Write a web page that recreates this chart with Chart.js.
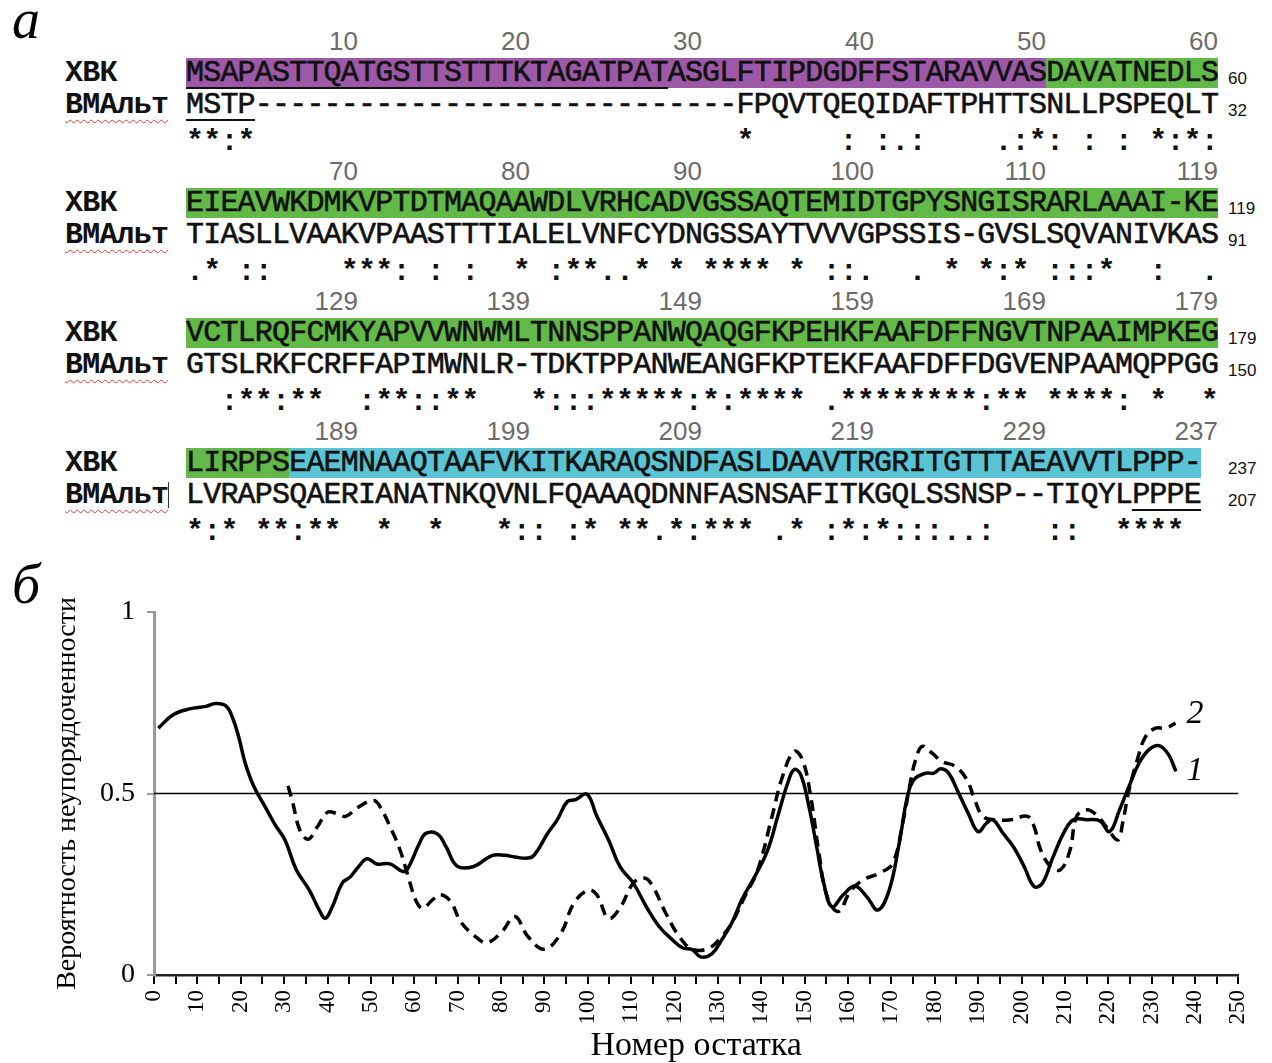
<!DOCTYPE html>
<html>
<head>
<meta charset="utf-8">
<script src="https://cdn.jsdelivr.net/npm/chart.js@4.4.0/dist/chart.umd.min.js"></script>
<style>
  body { margin: 0; width: 1272px; height: 1063px; background: #fff; position: relative; overflow: hidden; }
  #align { position: absolute; left: 0; top: 0; width: 1272px; height: 550px; }
  .mono { position: absolute; font-family: "Liberation Mono", "Courier New", monospace; font-size: 30px;
          letter-spacing: -0.8px; line-height: 30px; white-space: pre; color: #111; }
  .seq { -webkit-text-stroke: 0.6px #111; }
  .lbl { font-weight: bold; }
  .cons { font-weight: bold; }
  .spell { text-decoration: underline wavy #e53935; text-decoration-thickness: 1px; text-underline-offset: 6px; }
  .num { position: absolute; width: 100px; text-align: right; font-family: "Liberation Sans", Arial, sans-serif;
         font-size: 26px; line-height: 26px; color: #6b6b6b; }
  .cnt { position: absolute; font-family: "Liberation Sans", Arial, sans-serif; font-size: 17px; line-height: 17px; color: #111; }
  .panel { position: absolute; font-family: "Liberation Serif", serif; font-style: italic; font-size: 56px; line-height: 56px; }
  #plot { position: absolute; left: 0; top: 555px; }
</style>
</head>
<body>
<div id="align"></div>
<div class="panel" style="left:12px; top:-9px;">а</div>
<div class="panel" style="left:12px; top:556px;">б</div>
<canvas id="plot" width="1272" height="508"></canvas>
<script>
// === а: выравнивание ===
const xvkRows = [
  'MSAPASTTQATGSTTSTTTKTAGATPATASGLFTIPDGDFFSTARAVVASDAVATNEDLS',
  'EIEAVWKDMKVPTDTMAQAAWDLVRHCADVGSSAQTEMIDTGPYSNGISRARLAAAI-KE',
  'VCTLRQFCMKYAPVVWNWMLTNNSPPANWQAQGFKPEHKFAAFDFFNGVTNPAAIMPKEG',
  'LIRPPSEAEMNAAQTAAFVKITKARAQSNDFASLDAAVTRGRITGTTTAEAVVTLPPP-'
];
const vmRows = [
  'MSTP----------------------------FPQVTQEQIDAFTPHTTSNLLPSPEQLT',
  'TIASLLVAAKVPAASTTTIALELVNFCYDNGSSAYTVVVGPSSIS-GVSLSQVANIVKAS',
  'GTSLRKFCRFFAPIMWNLR-TDKTPPANWEANGFKPTEKFAAFDFFDGVENPAAMQPPGG',
  'LVRAPSQAERIANATNKQVNLFQAAAQDNNFASNSAFITKGQLSSNSP--TIQYLPPPE'
];
// [столбец, символы]
const consRows = [
  [[1, '**:*'], [33, '*'], [39, ': :.:'], [48, '.:*: : : *:*:']],
  [[1, '.* ::'], [10, '***: : :'], [20, '* :**..* * **** * ::.'], [43, '. * *:*'], [51, ':::*'], [57, ':'], [60, '.']],
  [[3, ':**:**'], [11, ':**::**'], [21, '*:::*****:*:****'], [38, '.********:**'], [51, '****:'], [57, '*'], [60, '*']],
  [[1, '*:* **:**'], [12, '*'], [15, '*'], [19, '*:: :* **.*:***'], [35, '.*'], [38, ':*:*:::..:'], [51, '::'], [55, '****']]
];
const posLabels = [
  ['10', '20', '30', '40', '50', '60'],
  ['70', '80', '90', '100', '110', '119'],
  ['129', '139', '149', '159', '169', '179'],
  ['189', '199', '209', '219', '229', '237']
];
const xvkCounts = ['60', '119', '179', '237'];
const vmCounts = ['32', '91', '150', '207'];

// домены: [блок, от, до, цвет]
const domains = [
  [0, 1, 50, '#9d59a7'], [0, 51, 60, '#63b948'],
  [1, 1, 60, '#63b948'],
  [2, 1, 60, '#63b948'],
  [3, 1, 6, '#63b948'], [3, 7, 59, '#5bc4d4']
];
// подчёркивания: [блок, строка, от, до]
const underlines = [[0, 0, 1, 28], [0, 1, 1, 4], [3, 1, 56, 59]];

const COL0 = 186, CW = 17.2, BLOCK = 130;
const host = document.getElementById('align');
function add(cls, left, top, text, extra) {
  const d = document.createElement('div');
  d.className = cls;
  d.style.left = left + 'px';
  d.style.top = top + 'px';
  if (text !== undefined) d.textContent = text;
  if (extra) Object.assign(d.style, extra);
  host.appendChild(d);
  return d;
}

domains.forEach(([b, s, e, c]) => {
  add('', COL0 + (s - 1) * CW, 58 + b * BLOCK, undefined,
      { position: 'absolute', width: ((e - s + 1) * CW) + 'px', height: '30px', background: c });
});
underlines.forEach(([b, r, s, e]) => {
  add('', COL0 + (s - 1) * CW, 87 + r * 32 + b * BLOCK, undefined,
      { position: 'absolute', width: ((e - s + 1) * CW) + 'px', height: '2px', background: '#111' });
});

for (let b = 0; b < 4; b++) {
  const base = b * BLOCK;
  posLabels[b].forEach((t, i) => add('num', COL0 + (i + 1) * 10 * CW - 100, 28 + base, t));
  add('mono lbl', 65, 58 + base, 'ХВК');
  const vm = add('mono lbl', 65, 90 + base, '');
  const sp = document.createElement('span');
  sp.className = 'spell';
  sp.textContent = 'ВМАльт';
  vm.appendChild(sp);
  add('mono seq', COL0, 58 + base, xvkRows[b]);
  add('mono seq', COL0, 90 + base, vmRows[b]);
  consRows[b].forEach(([c, s]) => add('mono cons', COL0 + (c - 1) * CW, 127 + base, s));
  add('cnt', 1228, 70 + base, xvkCounts[b]);
  add('cnt', 1228, 102 + base, vmCounts[b]);
}
// курсор после «ВМАльт» в последнем блоке
add('', 168, 482, undefined, { position: 'absolute', width: '1px', height: '26px', background: '#333' });

// === б: вероятность неупорядоченности ===
const residues1 = [1, 4.4, 8.2, 12, 14.2, 16.5, 18, 19.5, 21, 23, 25.6, 27.9, 30.2, 32.8, 35.8, 38.1, 39.5, 41.1,
  43.4, 45.3, 47.2, 49.1, 51.4, 54.4, 57.4, 58.6, 61.2, 62.7, 65.4, 67.3, 69.9, 73.7, 77.9, 80.9, 83.2, 86.2,
  87.7, 90.8, 93, 95.3, 97.2, 99.8, 102.1, 104.8, 107.4, 110.5, 113.5, 116.5, 119.5, 121.8, 124.1, 126, 128.6,
  130.9, 133.2, 135.5, 138.5, 141.5, 143.8, 146.1, 147.6, 149.1, 151, 152.9, 154.4, 156.3, 158.9, 161.6, 164.3,
  166.9, 169.5, 171.8, 173.7, 175.2, 177.9, 179.8, 181.3, 183.2, 185.5, 187.7, 190, 191.9, 193.4, 195.7, 198.3,
  200.6, 202.9, 204.8, 207, 209.7, 212, 215, 218, 220.3, 222.6, 224.8, 227.1, 229.4, 231.7, 233.9, 235.6];
const disorder1 = [0.68, 0.717, 0.733, 0.74, 0.748, 0.742, 0.712, 0.657, 0.585, 0.52, 0.464, 0.414, 0.372, 0.29,
  0.234, 0.179, 0.156, 0.188, 0.253, 0.271, 0.299, 0.32, 0.306, 0.306, 0.285, 0.295, 0.363, 0.39, 0.388, 0.354,
  0.30, 0.299, 0.329, 0.33, 0.325, 0.322, 0.331, 0.391, 0.428, 0.478, 0.483, 0.498, 0.437, 0.372, 0.299, 0.253,
  0.188, 0.133, 0.097, 0.075, 0.07, 0.05, 0.058, 0.097, 0.143, 0.207, 0.271, 0.345, 0.437, 0.529, 0.566, 0.552,
  0.464, 0.345, 0.253, 0.188, 0.221, 0.245, 0.216, 0.179, 0.234, 0.363, 0.492, 0.538, 0.556, 0.556, 0.568, 0.556,
  0.501, 0.446, 0.395, 0.418, 0.428, 0.391, 0.35, 0.299, 0.244, 0.253, 0.317, 0.391, 0.428, 0.428, 0.425, 0.395,
  0.455, 0.52, 0.584, 0.621, 0.632, 0.607, 0.561];

const residues2 = [30.9, 32, 33.6, 35.5, 37.7, 40, 42.3, 44.2, 46.8, 50.6, 52.1, 54.4, 56.7, 58.6, 60.5, 62, 64.2,
  66.1, 68.4, 70.7, 74.1, 76.7, 80.2, 83.2, 86.2, 90, 93.8, 96.8, 100.2, 102.1, 104.8, 107.4, 110.5, 113.1, 115,
  118, 121.1, 124.1, 127.9, 130.9, 133.2, 136.2, 139.2, 142.3, 144.9, 147.6, 149.5, 151.4, 153.3, 155.2, 157.8,
  160.5, 163.5, 167.3, 170.3, 172.6, 174.5, 175.6, 177.1, 179.4, 181.7, 184.7, 187.4, 189.2, 191.1, 193.8, 197.6,
  201.4, 202.9, 204.4, 206.7, 209, 211.2, 212.7, 215, 217.3, 219.5, 222.2, 223.3, 224.8, 226.7, 228.6, 230.9,
  233.2, 235.5];
const disorder2 = [0.521, 0.474, 0.40, 0.374, 0.409, 0.448, 0.444, 0.437, 0.46, 0.481, 0.464, 0.409, 0.345, 0.271,
  0.202, 0.184, 0.207, 0.221, 0.202, 0.147, 0.106, 0.089, 0.119, 0.161, 0.106, 0.071, 0.115, 0.198, 0.234, 0.221,
  0.156, 0.184, 0.253, 0.267, 0.244, 0.17, 0.106, 0.071, 0.074, 0.106, 0.143, 0.216, 0.29, 0.428, 0.547, 0.616,
  0.593, 0.492, 0.336, 0.216, 0.175, 0.23, 0.262, 0.281, 0.308, 0.418, 0.538, 0.593, 0.63, 0.611, 0.588, 0.575,
  0.538, 0.483, 0.437, 0.428, 0.428, 0.437, 0.409, 0.345, 0.299, 0.29, 0.345, 0.437, 0.455, 0.441, 0.409, 0.372,
  0.418, 0.51, 0.593, 0.657, 0.68, 0.68, 0.694];

const threshold = 0.5;
const curveNames = ['1', '2'];
const curveNameX = [240, 240];
const curveNameY = [0.563, 0.72];

const toPoints = (xs, ys) => xs.map((x, i) => ({ x, y: ys[i] }));

const curveLabels = {
  id: 'curveLabels',
  afterDatasetsDraw(chart) {
    const { ctx, scales: { x, y } } = chart;
    ctx.save();
    ctx.font = 'italic 34px "Liberation Serif"';
    ctx.fillStyle = '#000';
    ctx.textAlign = 'center';
    ctx.textBaseline = 'middle';
    curveNames.forEach((t, i) => ctx.fillText(t, x.getPixelForValue(curveNameX[i]), y.getPixelForValue(curveNameY[i])));
    ctx.restore();
  }
};

new Chart(document.getElementById('plot').getContext('2d'), {
  type: 'line',
  data: {
    datasets: [
      { data: toPoints(residues1, disorder1), borderColor: '#000', borderWidth: 3.5, pointRadius: 0, tension: 0.4 },
      { data: toPoints(residues2, disorder2), borderColor: '#000', borderWidth: 3.5, borderDash: [11, 7], pointRadius: 0, tension: 0.4 },
      { data: [{ x: 0, y: threshold }, { x: 250, y: threshold }], borderColor: '#000', borderWidth: 1.6, pointRadius: 0 }
    ]
  },
  options: {
    responsive: false,
    animation: false,
    devicePixelRatio: 1,
    layout: { padding: { top: 57, right: 21, left: 0, bottom: 0 } },
    plugins: { legend: { display: false }, tooltip: { enabled: false } },
    scales: {
      x: {
        type: 'linear', min: 0, max: 250,
        afterFit: s => { s.height = 88; },
        ticks: {
          stepSize: 5, maxTicksLimit: 100, autoSkip: false, minRotation: 90, maxRotation: 90, padding: 6,
          color: '#000', font: { family: 'Liberation Serif', size: 23 },
          callback: v => (v % 10 === 0 ? String(v) : '')
        },
        grid: { drawOnChartArea: false, drawTicks: true, tickLength: 9, color: '#000', lineWidth: 2 },
        border: { color: '#222', width: 2.5 },
        title: { display: true, text: 'Номер остатка', color: '#000', padding: 0,
                 font: { family: 'Liberation Serif', size: 34, lineHeight: 1 } }
      },
      y: {
        min: 0, max: 1,
        afterFit: s => { s.width = 154; },
        ticks: { stepSize: 0.5, padding: 12, color: '#000', font: { family: 'Liberation Serif', size: 28 },
                 callback: v => String(v) },
        grid: { drawOnChartArea: false, drawTicks: true, tickLength: 7, color: '#999', lineWidth: 2 },
        border: { color: '#999', width: 3 },
        title: { display: true, text: 'Вероятность неупорядоченности', color: '#000', padding: { top: 54, bottom: 0 },
                 font: { family: 'Liberation Serif', size: 28, lineHeight: 1 } }
      }
    }
  },
  plugins: [curveLabels]
});
</script>
</body>
</html>
